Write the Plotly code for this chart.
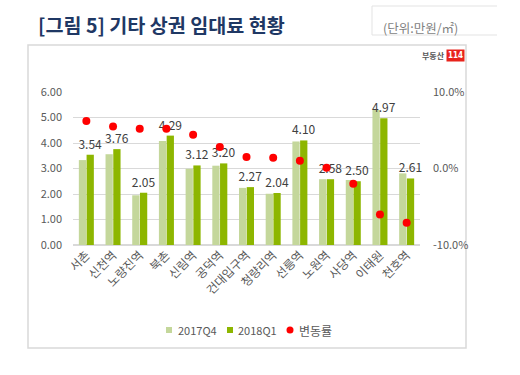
import plotly.graph_objects as go

categories = ["서촌", "신천역", "노량진역", "북촌", "신림역", "공덕역", "건대입구역",
              "청량리역", "선릉역", "노원역", "사당역", "이태원", "천호역"]
q4_2017 = [3.33, 3.56, 1.95, 4.08, 2.99, 3.11, 2.24, 2.01, 4.06, 2.58, 2.55, 5.29, 2.81]
q1_2018 = [3.54, 3.76, 2.05, 4.29, 3.12, 3.20, 2.27, 2.04, 4.10, 2.58, 2.50, 4.97, 2.61]
change_pct = [6.2, 5.5, 5.2, 5.2, 4.4, 2.8, 1.5, 1.4, 1.0, 0.1, -2.0, -6.0, -7.1]
series_names = ["2017Q4", "2018Q1", "변동률"]
series_colors = ["#C4D79B", "#8DB600", "#FF0000"]

W, H = 520, 375
L, R, T, B = 73, 420, 92, 245

def px(x):
    return (x - L) / (R - L)

def py(y):
    return (B - y) / (B - T)

FONT = "Noto Sans CJK KR"
GRAY = "#595959"

fig = go.Figure()
fig.add_trace(go.Bar(x=categories, y=q4_2017, name=series_names[0], marker_color=series_colors[0],
                     marker_line_width=0))
fig.add_trace(go.Bar(x=categories, y=q1_2018, name=series_names[1], marker_color=series_colors[1],
                     marker_line_width=0,
                     text=[f"{v:.2f}" for v in q1_2018], textposition="outside",
                     constraintext="none",
                     textfont=dict(size=12, color="#404040", family=FONT),
                     cliponaxis=False))
fig.add_trace(go.Scatter(x=categories, y=change_pct, name=series_names[2], mode="markers",
                         yaxis="y2", marker=dict(color=series_colors[2], size=8)))

fig.update_layout(
    width=W, height=H,
    margin=dict(l=L, r=W - R, t=T, b=H - B, autoexpand=False),
    paper_bgcolor="white", plot_bgcolor="white",
    barmode="group", bargap=0.42, bargroupgap=0.06,
    font=dict(family=FONT, size=11, color=GRAY),
    showlegend=False,
    xaxis=dict(tickangle=-45, showgrid=False, showline=False, ticks="", automargin=False,
               range=[-0.5, len(categories) - 0.5],
               tickfont=dict(size=12, color=GRAY)),
    yaxis=dict(range=[0, 6], dtick=1, tickformat=".2f", showgrid=True, automargin=False,
               gridcolor="#D9D9D9", gridwidth=1, zeroline=True, zerolinecolor="#D9D9D9",
               showline=False, ticklabelstandoff=10, tickfont=dict(size=11, color=GRAY)),
    yaxis2=dict(range=[-10, 10], tickvals=[-10, 0, 10], ticktext=["-10.0%", "0.0%", "10.0%"],
                overlaying="y", side="right", showgrid=False, zeroline=False, automargin=False,
                ticklabelstandoff=12, tickfont=dict(size=11, color=GRAY)),
)

# outer frame
fig.add_shape(type="rect", xref="paper", yref="paper",
              x0=px(28), x1=px(466), y0=py(348), y1=py(45),
              line=dict(color="#D9D9D9", width=1.5), layer="below")
# unit box (open right side)
fig.add_shape(type="path", xref="paper", yref="paper",
              path=f"M {px(497)} {py(6)} L {px(372)} {py(6)} L {px(372)} {py(35)} L {px(497)} {py(35)}",
              line=dict(color="#E3E3E3", width=1))

# legend (drawn manually to match compact spacing)
leg_y = 330
sym_x = [169, 230, 290]
txt_x = [176, 236, 297]
for i in range(3):
    if i < 2:
        fig.add_shape(type="rect", xref="paper", yref="paper",
                      x0=px(sym_x[i] - 3), x1=px(sym_x[i] + 3),
                      y0=py(leg_y + 3), y1=py(leg_y - 3),
                      fillcolor=series_colors[i], line_width=0)
    else:
        fig.add_shape(type="circle", xref="paper", yref="paper",
                      x0=px(sym_x[i] - 3.5), x1=px(sym_x[i] + 3.5),
                      y0=py(leg_y + 3.5), y1=py(leg_y - 3.5),
                      fillcolor=series_colors[i], line_width=0)
    fig.add_annotation(text=series_names[i], xref="paper", yref="paper",
                       x=px(txt_x[i]), y=py(leg_y), xanchor="left", yanchor="middle",
                       showarrow=False, font=dict(family=FONT, size=12 if i == 2 else 11, color=GRAY))

fig.add_annotation(text="<b>[그림 5] 기타 상권 임대료 현황</b>", xref="paper", yref="paper",
                   x=px(36), y=py(24), xanchor="left", yanchor="middle", showarrow=False,
                   font=dict(family=FONT, size=19.6, color="#1F3864"))
fig.add_annotation(text="(단위:만원/㎡)", xref="paper", yref="paper",
                   x=px(381), y=py(27), xanchor="left", yanchor="middle", showarrow=False,
                   font=dict(family=FONT, size=12.5, color="#7F7F7F"))
fig.add_annotation(text="<b>부동산</b>", xref="paper", yref="paper",
                   x=px(447), y=py(56), xanchor="right", yanchor="middle", showarrow=False,
                   font=dict(family=FONT, size=8, color="#555555"))
fig.add_annotation(text="<b>114</b>", xref="paper", yref="paper",
                   x=px(455), y=py(56), xanchor="center", yanchor="middle", showarrow=False,
                   bgcolor="#E8231B", borderpad=1,
                   font=dict(family="DejaVu Sans Condensed", size=8, color="white"))

fig.write_html("out.html", config={"displayModeBar": False},
               post_script="document.body.style.margin='0';")
